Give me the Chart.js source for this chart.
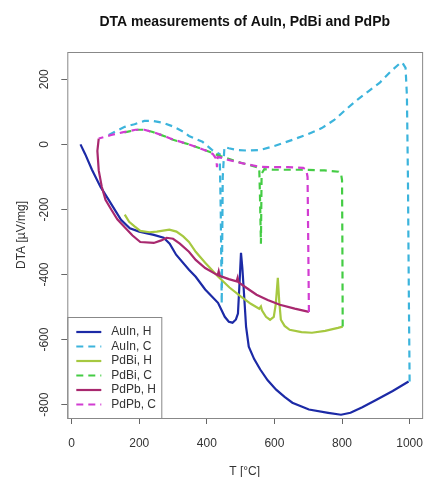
<!DOCTYPE html>
<html>
<head>
<meta charset="utf-8">
<script src="https://cdn.jsdelivr.net/npm/chart.js@4.4.1/dist/chart.umd.min.js"></script>
<style>
html, body { margin: 0; padding: 0; background: #fff; }
</style>
</head>
<body>
<canvas id="canvasDTA" width="435" height="477"></canvas>
<script>
// du lieu do DTA
var tickX = [0, 200, 400, 600, 800, 1000];
var tickY = [-800, -600, -400, -200, 0, 200];

var auinH_T = [26, 40, 60, 85, 109, 130, 146, 172, 200, 243, 272, 290, 309, 347, 367, 395, 433, 453, 465, 476, 486, 492, 497, 501, 505, 510, 516, 524, 540, 558, 580, 605, 630, 653, 702, 759, 797, 825, 860, 902, 950, 997];
var auinH_V = [0, -30, -78, -130, -170, -205, -232, -258, -268, -278, -287, -305, -339, -385, -407, -446, -487, -530, -545, -548, -538, -520, -420, -333, -380, -460, -560, -622, -660, -692, -725, -754, -776, -794, -815, -825, -831, -825, -808, -785, -758, -729];

var auinC_T = [1000, 998, 995, 992, 988, 978, 970, 945, 911, 878, 845, 810, 777, 740, 700, 653, 600, 558, 520, 490, 465, 452, 447, 444, 441, 438, 425, 415, 387, 347, 330, 300, 272, 240, 215, 186, 157, 130, 100];
var auinC_V = [-729, -500, -100, 150, 235, 252, 248, 225, 189, 163, 137, 106, 75, 50, 32, 14, -5, -17, -19, -17, -12, -8, -100, -490, -200, -30, -22, -17, 8, 26, 39, 55, 66, 72, 72, 62, 54, 40, 24];

var pdbiH_T = [157, 170, 186, 203, 230, 252, 289, 310, 330, 347, 367, 395, 433, 467, 501, 530, 555, 560, 563, 575, 587, 598, 604, 610, 614, 619, 630, 645, 680, 711, 750, 788, 802];
var pdbiH_V = [-216, -238, -252, -266, -270, -268, -262, -268, -283, -300, -330, -364, -406, -440, -468, -490, -505, -498, -510, -530, -539, -530, -490, -410, -480, -539, -558, -570, -577, -579, -573, -564, -560];

var pdbiC_T = [802, 801, 800, 797, 790, 748, 680, 600, 570, 562, 560, 557, 555, 520, 480, 440, 415, 380, 347, 300, 281, 240, 215, 195, 170, 150];
var pdbiC_V = [-560, -300, -110, -90, -84, -80, -78, -78, -76, -90, -305, -150, -72, -62, -50, -36, -26, -12, 0, 14, 23, 38, 45, 45, 40, 35];

var pdpbH_T = [80, 76, 80, 89, 100, 117, 135, 157, 180, 203, 243, 265, 281, 300, 320, 347, 367, 395, 425, 432, 435, 438, 465, 488, 491, 494, 520, 547, 580, 616, 660, 702];
var pdpbH_V = [18, -20, -80, -130, -170, -200, -230, -255, -280, -300, -303, -295, -287, -290, -305, -330, -355, -380, -398, -402, -390, -404, -414, -421, -410, -424, -443, -462, -478, -493, -505, -515];

var pdpbC_T = [702, 700, 698, 694, 685, 640, 600, 558, 500, 461, 440, 432, 430, 428, 418, 400, 347, 300, 281, 240, 215, 189, 150, 117, 80];
var pdpbC_V = [-515, -300, -100, -78, -72, -70, -70, -69, -57, -47, -40, -38, -70, -45, -30, -20, 0, 15, 23, 38, 45, 45, 37, 29, 18];

var tenDuLieu = ["AuIn, H", "AuIn, C", "PdBi, H", "PdBi, C", "PdPb, H", "PdPb, C"];
var mauDuLieu = ["#1c2aa6", "#3cb4dc", "#a6c840", "#44cc44", "#a8286e", "#d23cd2"];
var tieuDe = 'DTA measurements of AuIn, PdBi and PdPb';

function GhepDiem(t, v) {
    var pts = [];
    for (var i = 0; i < t.length; i++) pts.push({ x: t[i], y: v[i] });
    return pts;
}

function TaoDataset(i, t, v, dashed) {
    return {
        label: tenDuLieu[i],
        data: GhepDiem(t, v),
        borderColor: mauDuLieu[i],
        borderWidth: 2.2,
        borderDash: dashed ? [7, 5] : [],
        pointRadius: 0,
        showLine: true,
        tension: 0,
        fill: false,
        order: 6 - i
    };
}

var fontChu = "'Liberation Sans', Arial, sans-serif";

// tieu de, khung va chu thich
var khungPlugin = {
    id: 'khung',
    afterDraw: function (chart) {
        var ctx = chart.ctx, a = chart.chartArea;
        ctx.save();
        // tieu de (can giua vung ve)
        ctx.font = 'bold 14px ' + fontChu;
        ctx.fillStyle = '#111';
        ctx.textAlign = 'center';
        ctx.textBaseline = 'middle';
        ctx.fillText(tieuDe, (a.left + a.right) / 2, 22);
        // chu thich
        var lx = a.left, ly = a.bottom - 101, lw = 94, lh = 101;
        ctx.fillStyle = '#fff';
        ctx.fillRect(lx, ly, lw, lh);
        ctx.strokeStyle = '#888';
        ctx.lineWidth = 1;
        ctx.strokeRect(lx + 0.5, ly + 0.5, lw, lh);
        ctx.font = '12px ' + fontChu;
        ctx.textAlign = 'left';
        chart.data.datasets.forEach(function (ds, i) {
            var yy = ly + 15 + i * 14.5;
            ctx.beginPath();
            ctx.setLineDash(ds.borderDash);
            ctx.strokeStyle = ds.borderColor;
            ctx.lineWidth = 2.2;
            ctx.moveTo(lx + 9, yy);
            ctx.lineTo(lx + 34, yy);
            ctx.stroke();
            ctx.setLineDash([]);
            ctx.fillStyle = '#333';
            ctx.fillText(ds.label, lx + 44, yy);
        });
        // khung do thi
        ctx.strokeStyle = '#888';
        ctx.lineWidth = 1;
        ctx.strokeRect(a.left + 0.5, a.top + 0.5, a.right - a.left, a.bottom - a.top);
        ctx.restore();
    }
};

function VeDoThi() {
    new Chart(document.getElementById('canvasDTA'), {
        type: 'scatter',
        data: {
            datasets: [
                TaoDataset(0, auinH_T, auinH_V, false),
                TaoDataset(1, auinC_T, auinC_V, true),
                TaoDataset(2, pdbiH_T, pdbiH_V, false),
                TaoDataset(3, pdbiC_T, pdbiC_V, true),
                TaoDataset(4, pdpbH_T, pdpbH_V, false),
                TaoDataset(5, pdpbC_T, pdpbC_V, true)
            ]
        },
        options: {
            responsive: false,
            animation: false,
            layout: { padding: { left: 0, right: 1, top: 52, bottom: 0 } },
            plugins: {
                legend: { display: false },
                tooltip: { enabled: false },
                title: { display: false }
            },
            scales: {
                x: {
                    type: 'linear',
                    min: -13,
                    max: 1037,
                    afterBuildTicks: function (s) { s.ticks = tickX.map(function (v) { return { value: v }; }); },
                    afterFit: function (s) { s.height = 59; },
                    grid: { drawOnChartArea: false, drawTicks: true, tickLength: 6, color: '#666' },
                    border: { display: false },
                    ticks: {
                        color: '#333', font: { family: fontChu, size: 12 }, padding: 12, maxRotation: 0,
                        callback: function (v) { return String(v); }
                    },
                    title: {
                        display: true, text: 'T [°C]', color: '#333',
                        font: { family: fontChu, size: 12, lineHeight: 1 },
                        padding: { top: 0, bottom: -1 }
                    }
                },
                y: {
                    type: 'linear',
                    min: -841,
                    max: 284,
                    afterBuildTicks: function (s) { s.ticks = tickY.map(function (v) { return { value: v }; }); },
                    afterFit: function (s) { s.width = 67.3; },
                    grid: { drawOnChartArea: false, drawTicks: true, tickLength: 6, color: '#666' },
                    border: { display: false },
                    ticks: {
                        color: '#333', font: { family: fontChu, size: 12 }, padding: 5,
                        minRotation: 90, maxRotation: 90, crossAlign: 'center',
                        callback: function (v) { return String(v); }
                    },
                    title: {
                        display: true, text: 'DTA [µV/mg]', color: '#333',
                        font: { family: fontChu, size: 12, lineHeight: 1.2 },
                        padding: { top: 14.8, bottom: 0 }
                    }
                }
            }
        },
        plugins: [khungPlugin]
    });
}

VeDoThi();
</script>
</body>
</html>
